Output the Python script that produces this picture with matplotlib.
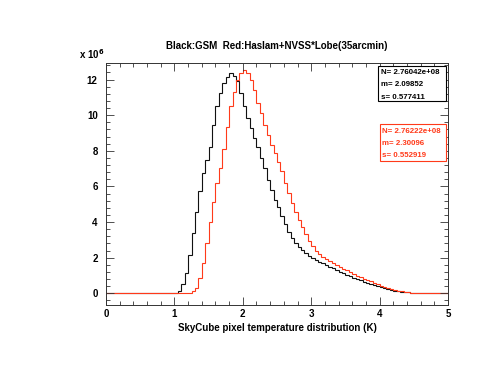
import numpy as np
import matplotlib
matplotlib.use("Agg")
import matplotlib.pyplot as plt
from matplotlib.ticker import MultipleLocator
from matplotlib.patches import Rectangle

# ---- data (counts in units of 1e6, bins of 0.05 K from 0 to 5 K) ----
bin_lo, bin_hi, n_bins = 0.0, 5.0, 100

gsm_counts = (
    [0.0] * 20 +
    [0.02, 0.11, 0.50, 1.16, 2.15, 3.37, 4.58, 5.76, 6.74, 7.49,
     8.20, 9.45, 10.49, 11.25, 11.80, 12.17, 12.36, 12.20, 11.90, 11.24,
     10.49, 9.83, 9.27, 8.71, 8.20, 7.58, 7.02, 6.37, 5.80, 5.24,
     4.85, 4.35, 3.90, 3.46, 3.12, 2.85, 2.62, 2.45, 2.28, 2.12,
     1.99, 1.88, 1.78, 1.69, 1.60, 1.50, 1.40, 1.30, 1.20, 1.12,
     1.03, 0.95, 0.88, 0.80, 0.72, 0.65, 0.58, 0.50, 0.44, 0.38,
     0.33, 0.28, 0.23, 0.19, 0.15, 0.12, 0.09, 0.07, 0.05, 0.04,
     0.03, 0.02, 0.01, 0.01, 0.005, 0.0, 0.0, 0.0, 0.0, 0.0]
)

haslam_counts = (
    [0.0] * 25 +
    [0.11, 0.28, 0.84, 1.72, 2.84,
     4.03, 5.15, 6.18, 7.02, 8.09, 9.36, 10.49, 11.33, 11.98, 12.36,
     12.55, 12.36, 11.98, 11.42, 10.71, 10.11, 9.46, 8.90, 8.33, 7.87,
     7.40, 6.84, 6.18, 5.62, 5.06, 4.59, 4.12, 3.70, 3.30, 2.95,
     2.65, 2.40, 2.20, 2.05, 1.92, 1.80, 1.68, 1.58, 1.48, 1.38,
     1.28, 1.18, 1.08, 0.99, 0.90, 0.82, 0.74, 0.66, 0.58, 0.50,
     0.43, 0.36, 0.30, 0.24, 0.19, 0.15, 0.11, 0.08, 0.06, 0.04,
     0.03, 0.02, 0.01, 0.01, 0.005, 0.0, 0.0, 0.0, 0.0, 0.0]
)

gsm_stats = ["N= 2.76042e+08", "m= 2.09852", "s= 0.577411"]
haslam_stats = ["N= 2.76222e+08", "m= 2.30096", "s= 0.552919"]

title = "Black:GSM  Red:Haslam+NVSS*Lobe(35arcmin)"
xlabel = "SkyCube pixel temperature distribution (K)"
xticks = [0, 1, 2, 3, 4, 5]
yticks = [0, 2, 4, 6, 8, 10, 12]

RED = "#ff3a1a"

plt.rcParams['font.family'] = ['Liberation Sans', 'DejaVu Sans']
plt.rcParams['font.weight'] = 'bold'

fig = plt.figure(figsize=(4.98, 3.85), dpi=100)
ax = fig.add_axes([106/498, 1 - 305/385, (448-106)/498, (305-62.7)/385])

edges = np.linspace(bin_lo, bin_hi, n_bins + 1)
ax.stairs(gsm_counts, edges, color="#111111", lw=0.8, baseline=None)
ax.stairs(haslam_counts, edges, color=RED, lw=0.8, baseline=None)

ax.set_xlim(0, 5)
ax.set_ylim(-0.66, 12.95)
ax.set_xticks(xticks)
ax.set_yticks(yticks)
ax.xaxis.set_minor_locator(MultipleLocator(0.2))
ax.yaxis.set_minor_locator(MultipleLocator(0.4))
ax.tick_params(which='both', direction='in', top=True, right=True,
               labelsize=7, width=0.6, color='#333333')
ax.tick_params(which='major', length=5.5)
ax.tick_params(axis='x', which='major', pad=3)
ax.tick_params(axis='y', which='major', pad=6)
ax.tick_params(which='minor', length=3)
for lab in ax.get_xticklabels() + ax.get_yticklabels():
    lab.set_fontweight('bold')
for sp in ax.spines.values():
    sp.set_linewidth(0.7)
    sp.set_color('#333333')

ax.set_xlabel(xlabel, fontsize=7, fontweight='bold', labelpad=3)
fig.text(277/498, 1 - 46/385, title, ha='center', va='center',
         fontsize=7, fontweight='bold')
fig.text(79/498, 1 - 54/385, r"x 10$^{\mathbf{6}}$", ha='left', va='center',
         fontsize=7, fontweight='bold')

# stat boxes (axes fraction coordinates)
def stat_box(lines, color, x0, x1, y0, y1, tx, ty_list):
    ax.add_patch(Rectangle((x0, y0), x1 - x0, y1 - y0, transform=ax.transAxes,
                           fc='white', ec=color, lw=0.8, zorder=5))
    for s, ty in zip(lines, ty_list):
        ax.text(tx, ty, s, transform=ax.transAxes, ha='left', va='center',
                fontsize=5.7, fontweight='bold', color=color, zorder=6)

stat_box(gsm_stats, 'black', 0.796, 0.994, 0.842, 0.986, 0.804,
         [0.9616, 0.908, 0.8584])
stat_box(haslam_stats, RED, 0.800, 0.994, 0.594, 0.747, 0.808,
         [0.718, 0.6665, 0.615])

fig.savefig("out.png", dpi=100)
